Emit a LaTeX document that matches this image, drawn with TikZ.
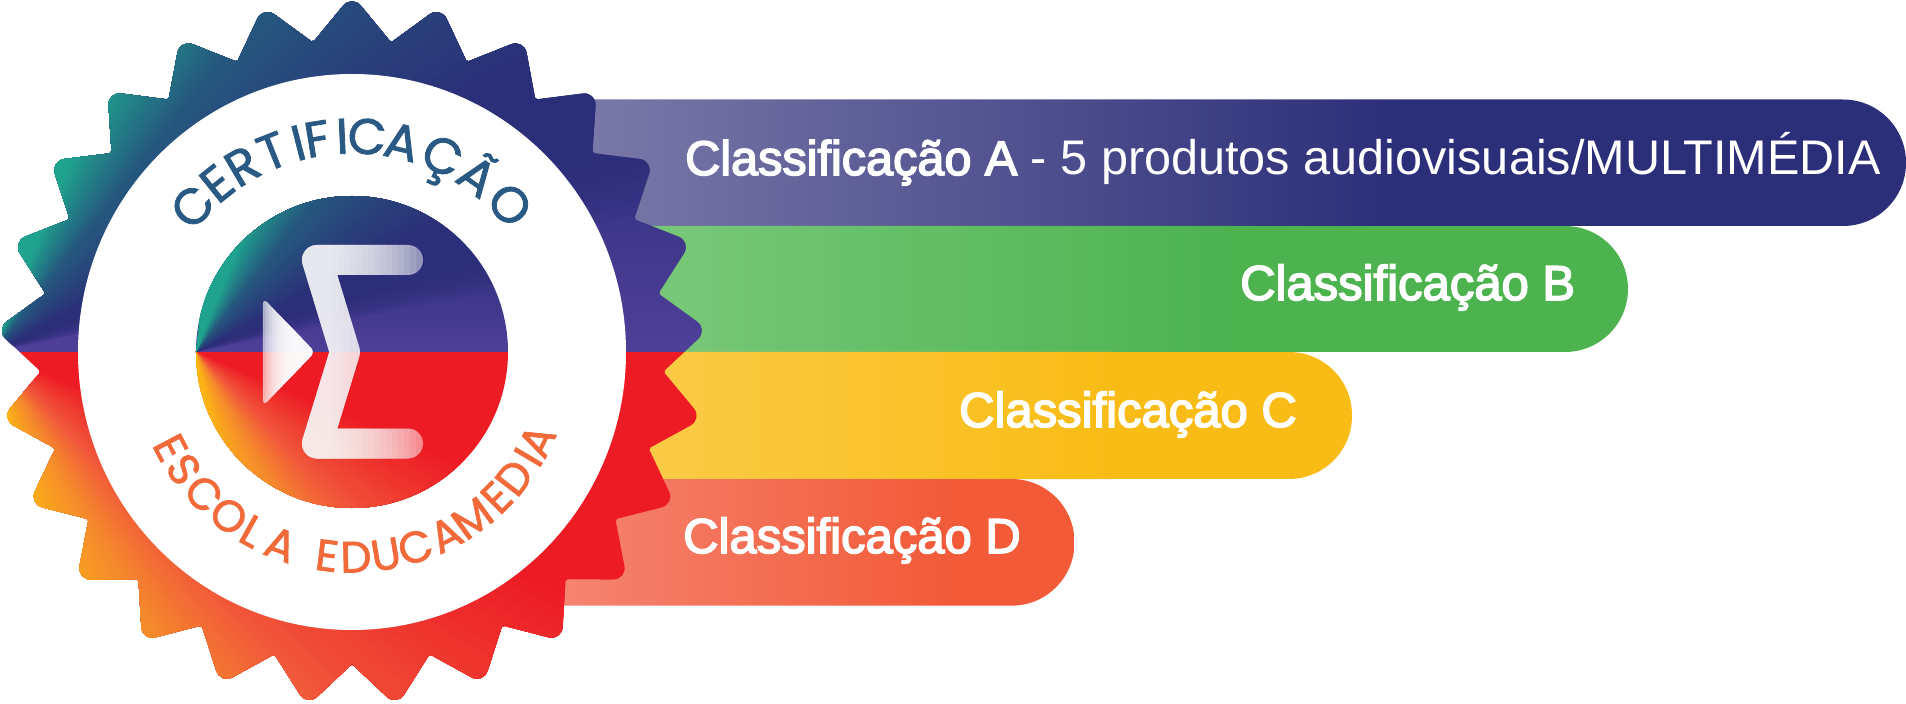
\documentclass[tikz,border=0pt]{standalone}
\usepackage{fontspec}
\setmainfont{Liberation Sans}
\newfontfamily\boldlabel[FakeBold=3.2]{Liberation Sans}
\newfontfamily\roundfont[FakeBold=1.6]{Poppins}

\definecolor{navy}{HTML}{2B2E78}
\definecolor{violet}{HTML}{4F3F98}
\definecolor{bluemid}{HTML}{25597E}
\definecolor{teal}{HTML}{1FA38E}
\definecolor{redbase}{HTML}{ED1C24}
\definecolor{redmid}{HTML}{F1563B}
\definecolor{orangemid}{HTML}{F58A2C}
\definecolor{amber}{HTML}{FBB415}
\definecolor{sealblue}{HTML}{2A5A83}
\definecolor{sealorange}{HTML}{F26A3A}
\definecolor{barAlight}{HTML}{7C7BAA}
\definecolor{barBlight}{HTML}{80CB80}
\definecolor{barBfull}{HTML}{4CB34F}
\definecolor{barClight}{HTML}{FBCE4F}
\definecolor{barCfull}{HTML}{F9BC16}
\definecolor{barDlight}{HTML}{F58470}
\definecolor{barDfull}{HTML}{F25A38}

\tikzset{
  barlabel/.style={text=white, anchor=base west, inner sep=0pt, font=\boldlabel\fontsize{49}{49}\selectfont},
  topletter/.style={inner sep=0pt, text depth=0pt, text height=35pt, text=sealblue, font=\roundfont\fontsize{50}{50}\selectfont},
  bottomletter/.style={inner sep=0pt, text depth=0pt, text height=31pt, text=sealorange, font=\roundfont\fontsize{44}{44}\selectfont},
  sigmaline/.style={white, line width=30pt, line join=round, line cap=round},
}

% nested wedges from one apex, each one a step further along the colour ramp
\newcommand{\fan}[6]{
  \foreach \i in {0,...,20} {
    \pgfmathsetmacro{\ang}{#2+(#3-#2)*\i/20}
    \pgfmathsetmacro{\pct}{100*\i/20}
    \fill[#5!\pct!#4] (#1,0) -- ++(\ang:2000) -- ++(#6:2000) -- cycle;
  }
}
% both halves of the medal, #1 is the apex of the fans, #2 the radius
\newcommand{\medalfill}[2]{
  \shade[bottom color=violet, top color=navy] (-#2,0) rectangle (#2,0.78*#2);
  \fill[navy] (-#2,0.78*#2) rectangle (#2,#2);
  \foreach \a in {12,...,26} \fill[navy, opacity=0.2] (#1,0) -- ++(\a:2000) -- ++(100:2000) -- cycle;
  \fan{#1}{27}{52}{navy}{bluemid}{100}
  \fan{#1}{52}{68}{bluemid}{teal}{100}
  \fill[redbase] (-#2,0) rectangle (#2,-#2);
  \fan{#1}{-22}{-46}{redbase}{redmid}{-100}
  \fan{#1}{-46}{-60}{redmid}{orangemid}{-100}
  \fan{#1}{-60}{-77}{orangemid}{amber}{-100}
}
% one bar: top, bottom, right end, end of the ramp, light colour, full colour
\newcommand{\gradbar}[6]{
  \begin{scope}
    \clip[rounded corners=63pt] (100,#1) rectangle (#3,#2);
    \shade[left color=#5, right color=#6] (210,#1) rectangle (#4,#2);
    \fill[#5] (100,#1) rectangle (210,#2);
    \fill[#6] (#4,#1) rectangle (#3,#2);
  \end{scope}
}
\newcommand{\sigmapath}{(56,92) -- (-35,92) -- (-7,0) -- (-35,-91.5) -- (56,-91.5)}

\begin{document}
\begin{tikzpicture}[x=1pt, y=1pt]
\useasboundingbox (-352,-352) rectangle (1554,352);

% Bars
\gradbar{252.5}{126}{1554}{1050}{barAlight}{navy}
\gradbar{126}{0}{1276}{880}{barBlight}{barBfull}
\gradbar{0}{-127}{1000}{760}{barClight}{barCfull}
\gradbar{-127}{-253.7}{722.5}{600}{barDlight}{barDfull}

% Star
\begin{scope}
  \clip (97.2:312) [rounded corners=14pt] -- (90:357) [rounded corners=2pt] -- (82.8:312)
    \foreach \k in {1,...,24} {
      [rounded corners=14pt] -- (90-14.4*\k:357) [rounded corners=2pt] -- (82.8-14.4*\k:312)
    } -- cycle;
  \medalfill{-359}{360}
\end{scope}

% White ring
\fill[white] (0,0) ellipse (274 and 278);

% Inner disc
\begin{scope}
  \clip (0,0) circle (156);
  \medalfill{-156}{156}
\end{scope}

% Sigma, layers get denser to the left
\draw[sigmaline, opacity=0.5] \sigmapath;
\foreach \x in {64,58,...,-20} {
  \begin{scope}
    \clip (-70,-120) rectangle (\x,120);
    \draw[sigmaline, opacity=0.1] \sigmapath;
  \end{scope}
}

% Triangle, layers get denser to the right
\begin{scope}
  \clip[rounded corners=6pt] (-89,54) -- (-37,0) -- (-89,-54) -- cycle;
  \fill[white, opacity=0.5] (-90,-60) rectangle (-30,60);
  \foreach \x in {-89,-86,...,-62} \fill[white, opacity=0.25] (\x,-60) rectangle (-30,60);
\end{scope}

% Upper arc
\foreach \ch/\ang [count=\i] in {C/-47.6,E/-38.7,R/-30.5,T/-21.7,I/-14.4,F/-9.3,I/-2.6,C/4,A/13.4,Ç/24.8,Ã/35.5,O/47}
  \node[topletter, rotate=-\ang] (top\i) at (90-\ang:216) {\ch};

% Lower arc
\foreach \ch/\ang [count=\i] in {E/-62.2,S/-55.1,C/-46.2,O/-36.9,L/-29.1,A/-20.3,E/-7,D/1.1,U/9.5,C/18,A/27.2,M/35.9,E/44.8,D/52.3,I/59.2,A/64.4}
  \node[bottomletter, rotate=\ang] (bottom\i) at (-90+\ang:205) {\ch};

% Labels
\node[barlabel, font=\boldlabel\fontsize{48.6}{49}\selectfont] (labelA) at (333,177) {Classificação A {\rmfamily - 5 produtos audiovisuais/MULTIMÉDIA}};
\node[barlabel] (labelB) at (888,52) {Classificação B};
\node[barlabel] (labelC) at (607,-75) {Classificação C};
\node[barlabel] (labelD) at (331,-201) {Classificação D};
\end{tikzpicture}
\end{document}
